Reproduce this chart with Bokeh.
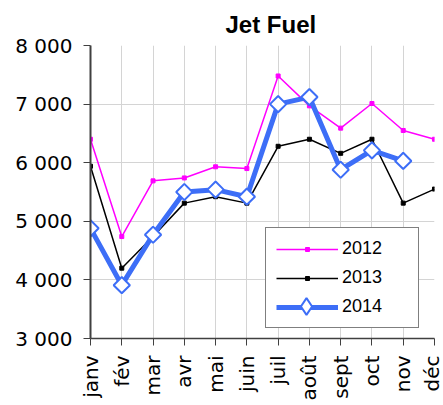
from math import pi

from bokeh.embed import file_html
from bokeh.models import ColumnDataSource, FixedTicker, Legend, LegendItem, Range1d
from bokeh.plotting import figure
from bokeh.resources import INLINE

months = ['janv', 'fév', 'mar', 'avr', 'mai', 'juin',
          'juil', 'août', 'sept', 'oct', 'nov', 'déc']
y2012 = [6400, 4740, 5690, 5740, 5930, 5900, 7480, 6970, 6590, 7010, 6550, 6400]
y2013 = [5940, 4200, 4740, 5310, 5420, 5310, 6280, 6400, 6160, 6400, 5310, 5550]
y2014 = [4880, 3910, 4770, 5500, 5540, 5420, 7000, 7120, 5880, 6210, 6030]
y_ticks = [3000, 4000, 5000, 6000, 7000, 8000]

FONT = 'Liberation Sans'
AXIS_FONT = 'DejaVu Sans'
BLUE = '#3d6ef7'

x = list(range(len(months)))
src12 = ColumnDataSource(dict(x=x, y=y2012))
src13 = ColumnDataSource(dict(x=x, y=y2013))
src14 = ColumnDataSource(dict(x=x[:len(y2014)], y=y2014))

p = figure(width=443, height=405, output_backend='svg', toolbar_location=None,
           x_range=Range1d(0, len(months) - 1), y_range=Range1d(3000, 8000),
           min_border_left=90, min_border_right=9, min_border_top=44,
           min_border_bottom=67, background_fill_color='white',
           border_fill_color='white', outline_line_color=None)

p.title.text = 'Jet Fuel'
p.title.align = 'left'
p.title.offset = 135
p.title.text_font = FONT
p.title.text_font_size = '24px'
p.title.text_font_style = 'bold'
p.title.text_color = 'black'
p.title.standoff = 16

# axes
p.xaxis.ticker = FixedTicker(ticks=x)
p.xaxis.major_label_overrides = {i: m for i, m in enumerate(months)}
p.xaxis.major_label_orientation = pi / 2
p.yaxis.ticker = FixedTicker(ticks=y_ticks)
p.yaxis.major_label_overrides = {t: f'{t:,}'.replace(',', ' ') for t in y_ticks}
for ax in (p.xaxis, p.yaxis):
    ax.major_label_text_font = AXIS_FONT
    ax.major_label_text_font_size = '20px'
    ax.major_label_text_color = 'black'
    ax.major_tick_in = 0
    ax.major_tick_out = 7
    ax.minor_tick_line_color = None
    ax.major_tick_line_color = '#404040'
    ax.axis_line_color = '#404040'
p.yaxis.axis_line_width = 2
p.xaxis.axis_line_width = 1.5
p.yaxis.major_label_standoff = 11
p.xaxis.major_label_standoff = 10

p.xgrid.ticker = FixedTicker(ticks=x)
p.ygrid.ticker = FixedTicker(ticks=y_ticks)
p.grid.grid_line_color = '#d4d4d4'
p.grid.grid_line_width = 1

# series
l12 = p.line('x', 'y', source=src12, line_color='#ff00ff', line_width=1.5)
m12 = p.scatter('x', 'y', source=src12, marker='square', size=4,
                fill_color='#ff00ff', line_color='#ff00ff')
l13 = p.line('x', 'y', source=src13, line_color='black', line_width=1.5)
m13 = p.scatter('x', 'y', source=src13, marker='square', size=4,
                fill_color='black', line_color='black')
l14 = p.line('x', 'y', source=src14, line_color=BLUE, line_width=5)
m14 = p.scatter('x', 'y', source=src14, marker='square', angle=pi / 4, size=11.5,
                fill_color='white', line_color=BLUE, line_width=2)
# hidden renderer, only used for the legend swatch
# (rotated squares are not rotated inside the legend)
k14 = p.scatter('x', 'y', source=src14, marker='diamond', size=18,
                fill_color='white', line_color=BLUE, line_width=2, visible=False)

legend = Legend(items=[
    LegendItem(label='2012', renderers=[l12, m12]),
    LegendItem(label='2013', renderers=[l13, m13]),
    LegendItem(label='2014', renderers=[l14]),
], location=(175, 10))
legend.label_text_font = FONT
legend.label_text_font_size = '18px'
legend.label_text_color = 'black'
legend.glyph_width = 62
legend.glyph_height = 10
legend.label_height = 21
legend.label_width = 66
legend.label_standoff = 4
legend.spacing = 8
legend.padding = 10
legend.margin = 0
legend.border_line_color = 'black'
legend.border_line_width = 1
legend.background_fill_alpha = 1
p.add_layout(legend, 'center')

# second, transparent legend: only the bigger diamond of 2014
legend_mk = Legend(items=[LegendItem(label=' ', renderers=[k14])],
                   location=(185, 11))
legend_mk.glyph_width = 62
legend_mk.glyph_height = 42
legend_mk.label_width = 0
legend_mk.label_height = 0
legend_mk.label_standoff = 0
legend_mk.label_text_font_size = '1px'
legend_mk.padding = 0
legend_mk.margin = 0
legend_mk.border_line_color = None
legend_mk.background_fill_color = None
legend_mk.inactive_fill_alpha = 0
p.add_layout(legend_mk, 'center')

open('out.html', 'w').write(file_html(p, INLINE))
